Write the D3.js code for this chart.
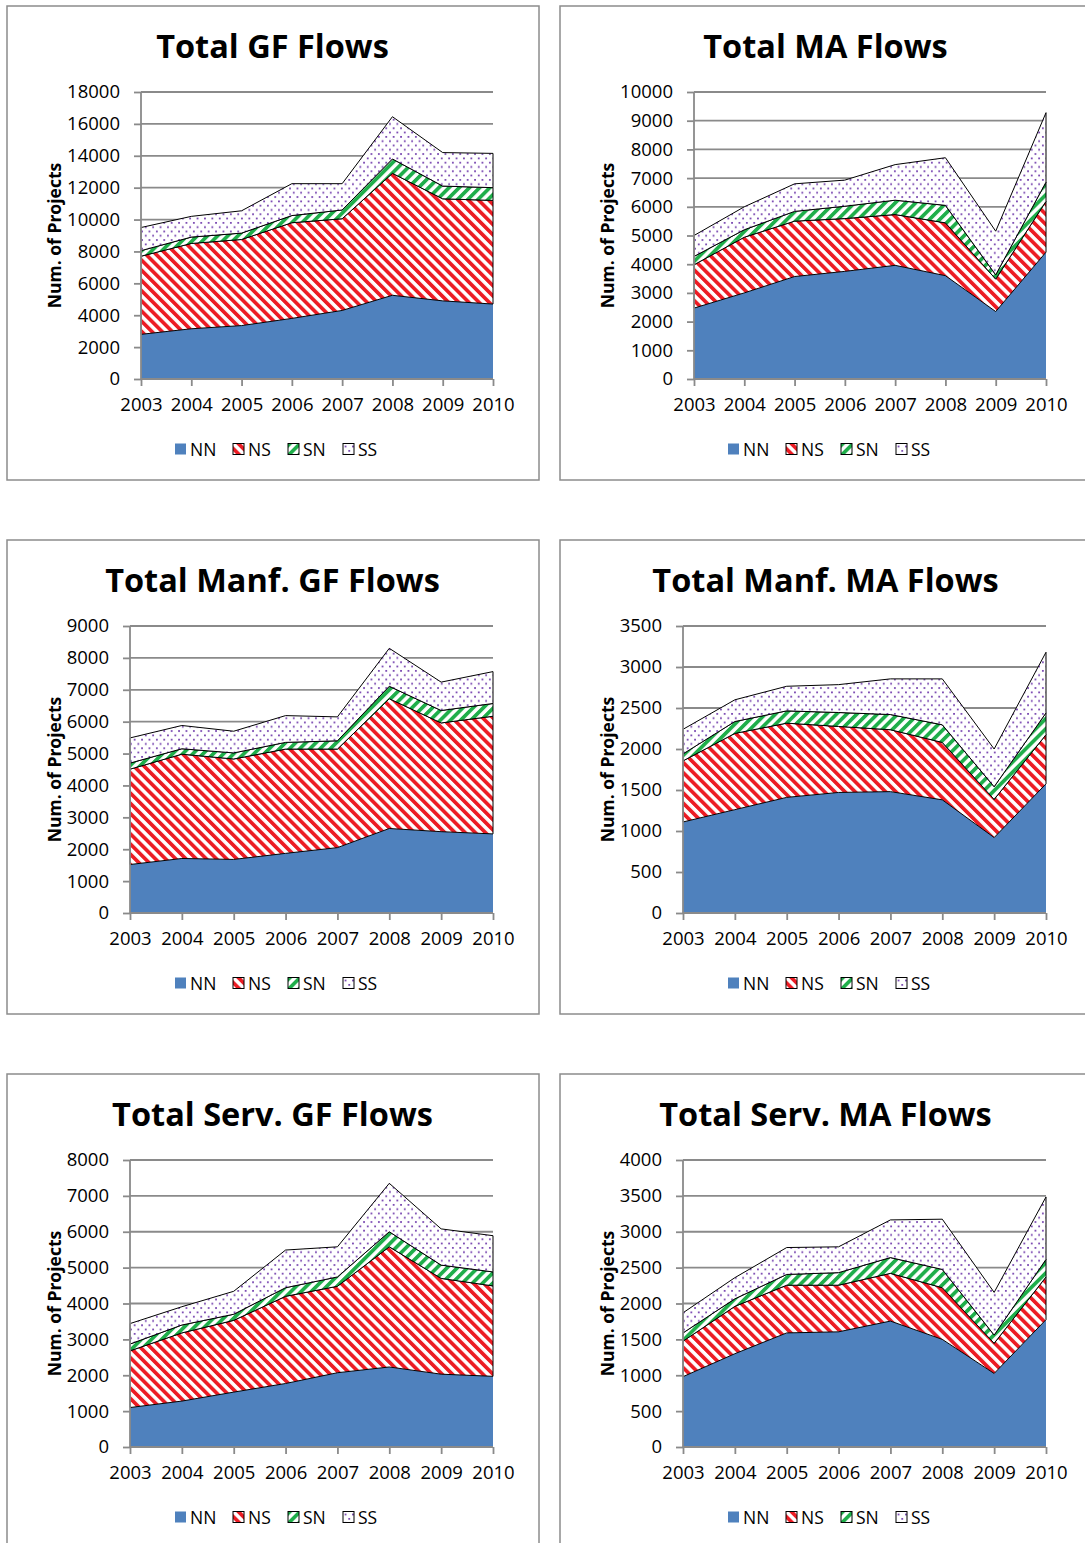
<!DOCTYPE html>
<html><head><meta charset="utf-8">
<script src="https://cdn.jsdelivr.net/npm/d3@7"></script>
<style>body{margin:0;background:#fff}svg{display:block}</style>
</head><body>
<svg id="c" width="1085" height="1543"></svg>
<script>
const years = ["2003","2004","2005","2006","2007","2008","2009","2010"];
const seriesNames = ["NN","NS","SN","SS"];

// Total GF Flows
const totalGF_NN = [2800,3150,3350,3800,4300,5250,4900,4700];
const totalGF_NS = [4900,5350,5400,6000,5750,7650,6400,6500];
const totalGF_SN = [350,400,400,450,550,900,800,800];
const totalGF_SS = [1450,1300,1400,2000,1650,2650,2100,2150];
// Total MA Flows
const totalMA_NN = [2470,3000,3570,3750,3960,3600,2350,4420];
const totalMA_NS = [1510,1940,1930,1840,1770,1840,1130,1770];
const totalMA_SN = [290,260,340,430,500,610,150,670];
const totalMA_SS = [730,800,960,910,1240,1660,1520,2420];
// Total Manf. GF Flows
const manfGF_NN = [1520,1710,1680,1870,2050,2650,2550,2480];
const manfGF_NS = [2990,3270,3150,3270,3090,4070,3410,3690];
const manfGF_SN = [190,170,190,210,260,390,390,400];
const manfGF_SS = [790,730,680,840,750,1190,890,1000];
// Total Manf. MA Flows
const manfMA_NN = [1110,1260,1410,1470,1480,1380,920,1575];
const manfMA_NS = [745,930,905,805,755,700,465,600];
const manfMA_SN = [85,145,150,170,185,215,155,265];
const manfMA_SS = [300,265,300,340,435,560,460,740];
// Total Serv. GF Flows
const servGF_NN = [1100,1280,1530,1770,2070,2230,2030,1970];
const servGF_NS = [1580,1900,2000,2430,2410,3350,2670,2520];
const servGF_SN = [190,220,170,240,260,420,370,390];
const servGF_SS = [570,510,640,1050,840,1350,1010,1010];
// Total Serv. MA Flows
const servMA_NN = [980,1300,1590,1605,1755,1500,1025,1775];
const servMA_NS = [495,660,665,650,665,720,420,595];
const servMA_SN = [115,105,150,175,220,255,115,245];
const servMA_SS = [280,295,375,360,525,700,595,870];

const titles = ["Total GF Flows","Total MA Flows","Total Manf. GF Flows","Total Manf. MA Flows","Total Serv. GF Flows","Total Serv. MA Flows"];
const yTicks = [
  d3.range(0,18001,2000), d3.range(0,10001,1000),
  d3.range(0,9001,1000), d3.range(0,3501,500),
  d3.range(0,8001,1000), d3.range(0,4001,500)
];
const chartData = [
  [totalGF_NN,totalGF_NS,totalGF_SN,totalGF_SS],
  [totalMA_NN,totalMA_NS,totalMA_SN,totalMA_SS],
  [manfGF_NN,manfGF_NS,manfGF_SN,manfGF_SS],
  [manfMA_NN,manfMA_NS,manfMA_SN,manfMA_SS],
  [servGF_NN,servGF_NS,servGF_SN,servGF_SS],
  [servMA_NN,servMA_NS,servMA_SN,servMA_SS]
];

const svg = d3.select("#c");
const FONT = "'Open Sans', 'DejaVu Sans', sans-serif";
const GRID = "#8a8a8a";

// patterns
const defs = svg.append("defs");
function stripe(id, color, angle){
  const s = 7.2;
  const p = defs.append("pattern").attr("id",id).attr("patternUnits","userSpaceOnUse")
    .attr("width",s).attr("height",s).attr("patternTransform",`rotate(${angle})`);
  p.append("rect").attr("width",s).attr("height",s).attr("fill","#fff");
  p.append("rect").attr("width",3.7).attr("height",s).attr("fill",color);
}
stripe("pNS","#ec1c24",-45);
stripe("pSN","#1fae4a",45);
{
  const w = 7.4, h = 8.6;
  const p = defs.append("pattern").attr("id","pSS").attr("patternUnits","userSpaceOnUse")
    .attr("width",w).attr("height",h);
  p.append("rect").attr("width",w).attr("height",h).attr("fill","#fff");
  p.append("rect").attr("x",1).attr("y",1).attr("width",1.7).attr("height",1.7).attr("fill","#6a33a8");
  p.append("rect").attr("x",1+w/2).attr("y",1+h/2).attr("width",1.7).attr("height",1.7).attr("fill","#6a33a8");
}
const fills = ["#4f81bd","url(#pNS)","url(#pSN)","url(#pSS)"];
const strokes = ["none","#000","#000","#000"];

const panelPos = [[7,6],[560,6],[7,540],[560,540],[7,1074],[560,1074]];
const plotLeft = [134,134,123,123,123,123];
const PW = 532, PH = 474;

panelPos.forEach(([px,py],i)=>{
  const g = svg.append("g").attr("transform",`translate(${px},${py})`);
  g.append("rect").attr("x",0).attr("y",0).attr("width",PW).attr("height",PH)
    .attr("fill","#fff").attr("stroke","#8c8c8c").attr("stroke-width",1.5);

  const left = plotLeft[i], right = 486, top = 86, bottom = 373;
  const x = d3.scalePoint().domain(years).range([left,right]).padding(0);
  const ticks = yTicks[i];
  const y = d3.scaleLinear().domain([0, ticks[ticks.length-1]]).range([bottom, top]);

  // title
  g.append("text").attr("x",PW/2 - 0.5).attr("y",52).attr("text-anchor","middle")
    .attr("font-family",FONT).attr("font-weight","bold").attr("font-size",32.5)
    .attr("fill","#000").text(titles[i]);

  // gridlines
  g.append("g").selectAll("line").data(ticks.slice(1)).join("line")
    .attr("x1",left).attr("x2",right).attr("y1",d=>y(d)).attr("y2",d=>y(d))
    .attr("stroke",GRID).attr("stroke-width",1.8);

  // stacked areas
  const rows = years.map((yr,j)=>{ const o={year:yr}; seriesNames.forEach((s,k)=>o[s]=chartData[i][k][j]); return o; });
  const stack = d3.stack().keys(seriesNames)(rows);
  const area = d3.area().x(d=>x(d.data.year)).y0(d=>y(d[0])).y1(d=>y(d[1]));
  g.append("g").selectAll("path").data(stack).join("path")
    .attr("d",area).attr("fill",(d,k)=>fills[k]).attr("stroke",(d,k)=>strokes[k])
    .attr("stroke-width",1).attr("stroke-linejoin","round");

  // y axis
  const ya = g.append("g").attr("transform",`translate(${left},0)`)
    .call(d3.axisLeft(y).tickValues(ticks).tickSize(7).tickPadding(14).tickFormat(d3.format("d")));
  ya.select(".domain").attr("stroke",GRID).attr("stroke-width",1.8).attr("d",`M-0,${bottom}V${top}`);
  ya.selectAll(".tick line").attr("stroke",GRID).attr("stroke-width",1.8);
  ya.selectAll("text").attr("font-family",FONT).attr("font-size",18.5).attr("fill","#000");

  // x axis
  const xa = g.append("g").attr("transform",`translate(0,${bottom})`)
    .call(d3.axisBottom(x).tickSize(7).tickPadding(12));
  xa.select(".domain").attr("stroke",GRID).attr("stroke-width",1.8).attr("d",`M${left},0H${right}`);
  xa.selectAll(".tick line").attr("stroke",GRID).attr("stroke-width",1.8);
  xa.selectAll("text").attr("font-family",FONT).attr("font-size",18.5).attr("fill","#000");

  // y title
  g.append("text").attr("transform",`translate(47,${(top+bottom)/2}) rotate(-90)`)
    .attr("text-anchor","middle").attr("dominant-baseline","central")
    .attr("font-family",FONT).attr("font-weight","bold").attr("font-size",17.5)
    .attr("fill","#000").text("Num. of Projects");

  // legend
  const lx = [168,226,281,336];
  const lg = g.append("g").attr("transform","translate(0,443)");
  seriesNames.forEach((s,k)=>{
    lg.append("rect").attr("x",lx[k]).attr("y",-5.5).attr("width",11).attr("height",11)
      .attr("fill",fills[k]).attr("stroke",strokes[k]).attr("stroke-width",1);
    lg.append("text").attr("x",lx[k]+15).attr("y",0).attr("dominant-baseline","central")
      .attr("font-family",FONT).attr("font-size",17.5).attr("fill","#000").text(s);
  });
});
</script>
</body></html>
